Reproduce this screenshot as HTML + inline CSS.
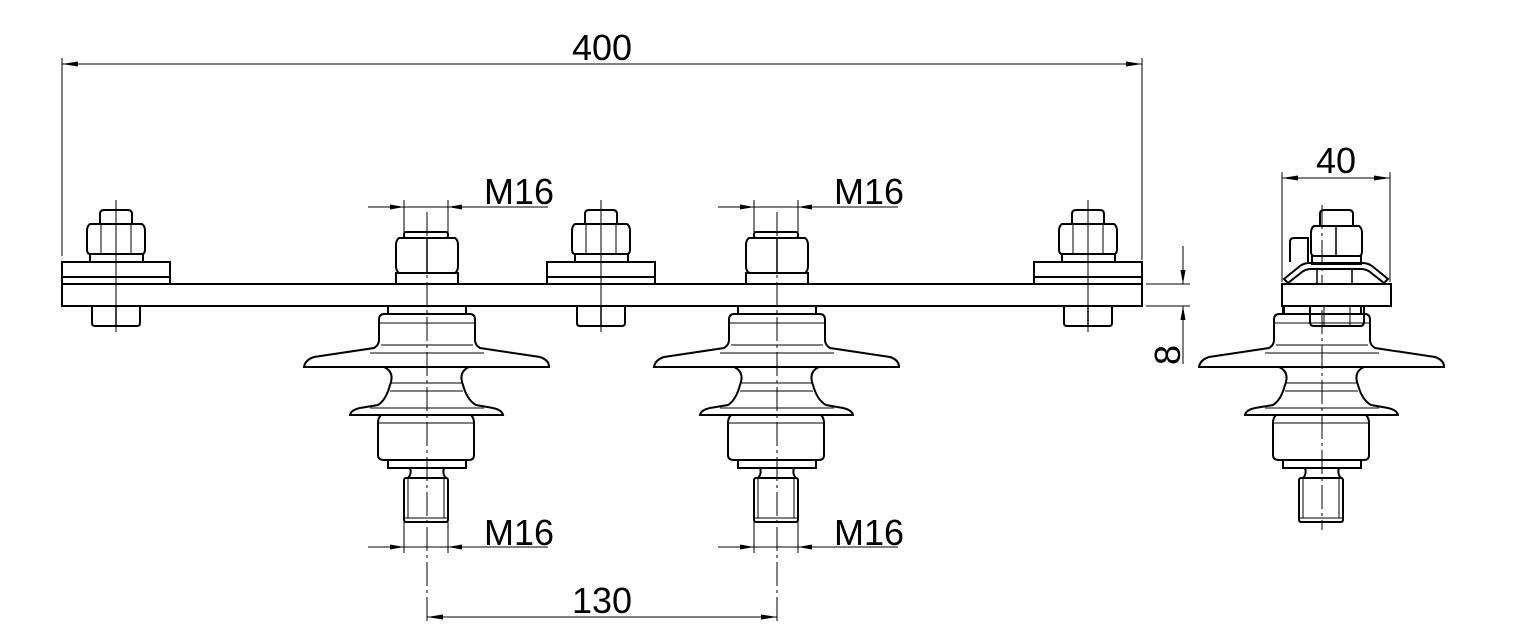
<!DOCTYPE html>
<html><head><meta charset="utf-8"><style>
html,body{margin:0;padding:0;background:#fff}
svg{display:block}
text{font-family:"Liberation Sans",sans-serif;font-size:36px;fill:#000}
</style></head><body>
<svg width="1531" height="644" viewBox="0 0 1531 644" xmlns="http://www.w3.org/2000/svg">
<defs>
<g id="ins" fill="none" stroke="#000" stroke-width="2">
  <rect x="388" y="306" width="78" height="8"/>
  <path d="M384,314 H470 Q475,314 475,320 V340 Q475,345 480,348 L540,357 Q549,360 549,367 H304 Q305,360 314,357 L374,348 Q379,345 379,340 V320 Q379,314 384,314 Z"/>
  <line x1="379" y1="323" x2="475" y2="323" stroke-width="1"/>
  <line x1="381" y1="345" x2="473" y2="345" stroke-width="1"/>
  <line x1="370" y1="353" x2="484" y2="353" stroke-width="1"/>
  <path d="M384,367 Q395,372 390,385 Q386,400 378,405 L360,408 Q351,410 350,415 H503 Q502,410 493,408 L476,405 Q467,400 463,385 Q458,372 469,367"/>
  <line x1="390" y1="383" x2="463" y2="383" stroke-width="1"/>
  <line x1="390" y1="391" x2="463" y2="391" stroke-width="1"/>
  <line x1="370" y1="408" x2="484" y2="408" stroke-width="1"/>
  <path d="M381,415 Q378,418 378,423 V455 Q378,460 384,460 H469 Q474,460 474,455 V423 Q474,418 471,415"/>
  <line x1="378" y1="423" x2="474" y2="423" stroke-width="1"/>
  <rect x="388" y="460" width="78" height="8"/>
  <path d="M410,468 Q412,474 408,478 M444,468 Q442,474 446,478"/>
  <rect x="404" y="478" width="44" height="44" rx="2"/>
  <line x1="408" y1="478" x2="408" y2="518" stroke-width="1"/>
  <line x1="444" y1="478" x2="444" y2="518" stroke-width="1"/>
  <line x1="404" y1="518" x2="448" y2="518" stroke-width="1"/>
</g>
<g id="topnut" fill="none" stroke="#000" stroke-width="2">
  <rect x="404" y="232" width="44" height="6" rx="2"/>
  <path d="M399,238 H455 Q458,240 458,245 V266 Q458,271 455,273 H399 Q396,271 396,266 V245 Q396,240 399,238 Z"/>
  <line x1="427" y1="238" x2="427" y2="273" stroke-width="1.5"/>
  <rect x="396" y="273" width="62" height="11"/>
</g>
<g id="bolt" fill="none" stroke="#000" stroke-width="2">
  <path d="M100,224 V214 Q100,210 104,210 H128 Q132,210 132,214 V224"/>
  <path d="M90,224 H142 Q145,226 145,231 V249 Q145,254 142,254 H90 Q87,254 87,249 V231 Q87,226 90,224 Z"/>
  <line x1="101" y1="224" x2="101" y2="254" stroke-width="1"/>
  <line x1="131" y1="224" x2="131" y2="254" stroke-width="1"/>
  <rect x="90" y="254" width="53" height="8"/>
  <rect x="62" y="262" width="108" height="22"/>
  <line x1="62" y1="277" x2="170" y2="277"/>
  <path d="M92,306 V323 Q92,326 95,326 H137 Q140,326 140,323 V306"/>
  <line x1="116" y1="306" x2="116" y2="326" stroke-width="1.5"/>
  <line x1="116" y1="200" x2="116" y2="332" stroke-width="1"/>
</g>
</defs>

<!-- main plate -->
<rect x="62" y="284" width="1080" height="22" fill="none" stroke="#000" stroke-width="2"/>

<use href="#bolt"/>
<use href="#bolt" transform="translate(485,0)"/>
<use href="#bolt" transform="translate(972,0)"/>

<use href="#ins"/>
<use href="#ins" transform="translate(350,0)"/>
<use href="#topnut"/>
<use href="#topnut" transform="translate(350,0)"/>

<!-- center lines -->
<g stroke="#000" stroke-width="1" stroke-dasharray="24,4,3,4">
  <line x1="427" y1="212" x2="427" y2="622"/>
  <line x1="777" y1="212" x2="777" y2="622"/>
  <line x1="1322" y1="205" x2="1322" y2="530"/>
</g>

<!-- side view -->
<use href="#ins" transform="translate(895,0)"/>
<g fill="none" stroke="#000" stroke-width="2">
  <rect x="1282" y="284" width="109" height="22" fill="#fff"/>
  <path d="M1320,226 V214 Q1320,210 1324,210 H1349 Q1353,210 1353,214 V226"/>
  <path d="M1314,226 H1359 Q1362,228 1362,233 V251 Q1362,256 1359,256 H1314 Q1311,256 1311,251 V233 Q1311,228 1314,226 Z"/>
  <line x1="1336" y1="226" x2="1336" y2="256" stroke-width="1.5"/>
  <path d="M1290,262 V242 Q1290,238 1294,238 H1308 V262"/>
  <rect x="1312" y="256" width="49" height="8"/>
  <path d="M1284,279 L1300,266 Q1304,263 1310,263 H1362 Q1368,263 1372,266 L1388,279 L1384,283 L1370,272 Q1366,269 1361,269 H1311 Q1306,269 1302,272 L1288,283 Z"/>
  <line x1="1317" y1="269" x2="1317" y2="284" stroke-width="1.5"/>
  <line x1="1352" y1="269" x2="1352" y2="284" stroke-width="1.5"/>
  <path d="M1310,306 V322 Q1310,326 1314,326 H1360 Q1364,326 1364,322 V306"/>
  <line x1="1324" y1="306" x2="1324" y2="326" stroke-width="1"/>
  <line x1="1350" y1="306" x2="1350" y2="326" stroke-width="1"/>
  <line x1="1284" y1="306" x2="1284" y2="314" />
  <line x1="1284" y1="314" x2="1308" y2="314" />
</g>

<!-- dimensions -->
<g stroke="#000" stroke-width="1" fill="none">
  <!-- 400 -->
  <line x1="62" y1="58" x2="62" y2="256"/>
  <line x1="1142" y1="58" x2="1142" y2="260"/>
  <line x1="62" y1="64" x2="1142" y2="64"/>
  <!-- M16 top -->
  <line x1="404" y1="200" x2="404" y2="232"/><line x1="448" y1="200" x2="448" y2="232"/>
  <line x1="368" y1="207" x2="548" y2="207"/>
  <line x1="754" y1="200" x2="754" y2="232"/><line x1="798" y1="200" x2="798" y2="232"/>
  <line x1="718" y1="207" x2="898" y2="207"/>
  <!-- M16 bottom -->
  <line x1="404" y1="522" x2="404" y2="553"/><line x1="448" y1="522" x2="448" y2="553"/>
  <line x1="368" y1="547" x2="548" y2="547"/>
  <line x1="754" y1="522" x2="754" y2="553"/><line x1="798" y1="522" x2="798" y2="553"/>
  <line x1="718" y1="547" x2="898" y2="547"/>
  <!-- 130 -->
  <line x1="427" y1="617" x2="777" y2="617"/>
  <!-- 8 -->
  <line x1="1146" y1="284" x2="1190" y2="284"/>
  <line x1="1146" y1="306" x2="1190" y2="306"/>
  <line x1="1183" y1="246" x2="1183" y2="284"/>
  <line x1="1183" y1="306" x2="1183" y2="364"/>
  <!-- 40 -->
  <line x1="1282" y1="172" x2="1282" y2="282"/>
  <line x1="1390" y1="172" x2="1390" y2="282"/>
  <line x1="1282" y1="178" x2="1390" y2="178"/>
</g>
<g fill="#000">
  <polygon points="62,64 78,61.5 78,66.5"/><polygon points="1142,64 1126,61.5 1126,66.5"/>
  <polygon points="404,207 390,204.5 390,209.5"/><polygon points="448,207 462,204.5 462,209.5"/>
  <polygon points="754,207 740,204.5 740,209.5"/><polygon points="798,207 812,204.5 812,209.5"/>
  <polygon points="404,547 390,544.5 390,549.5"/><polygon points="448,547 462,544.5 462,549.5"/>
  <polygon points="754,547 740,544.5 740,549.5"/><polygon points="798,547 812,544.5 812,549.5"/>
  <polygon points="427,617 443,614.5 443,619.5"/><polygon points="777,617 761,614.5 761,619.5"/>
  <polygon points="1183,284 1180.5,270 1185.5,270"/><polygon points="1183,306 1180.5,320 1185.5,320"/>
  <polygon points="1282,178 1298,175.5 1298,180.5"/><polygon points="1390,178 1374,175.5 1374,180.5"/>
</g>
<text x="602" y="60" text-anchor="middle">400</text>
<text x="519" y="204" text-anchor="middle">M16</text>
<text x="869" y="204" text-anchor="middle">M16</text>
<text x="519" y="545" text-anchor="middle">M16</text>
<text x="869" y="545" text-anchor="middle">M16</text>
<text x="602" y="613" text-anchor="middle">130</text>
<text x="1336" y="173" text-anchor="middle">40</text>
<text transform="translate(1180,355) rotate(-90)" text-anchor="middle">8</text>
</svg>
</body></html>
